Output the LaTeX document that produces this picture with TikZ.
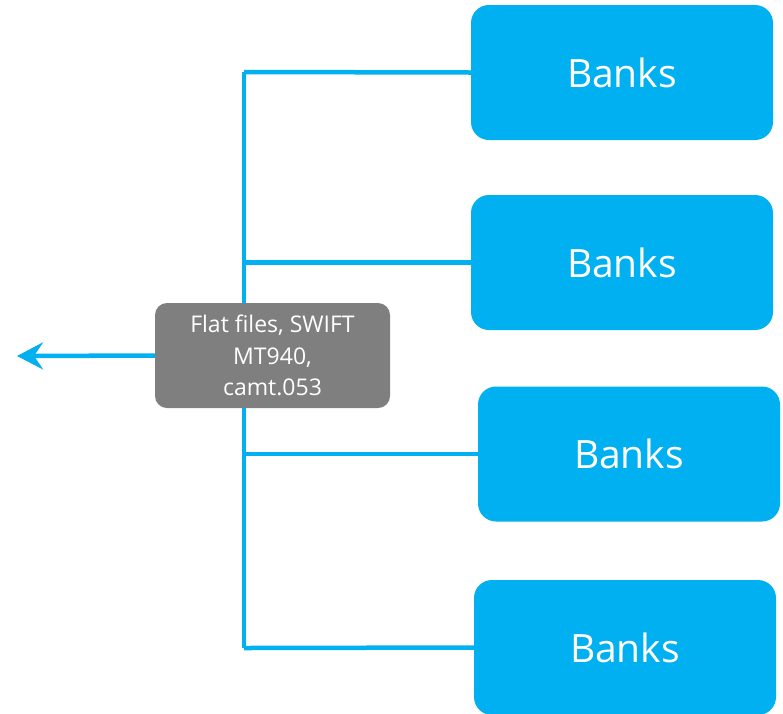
\documentclass[tikz,border=0pt]{standalone}
\usepackage{fontspec}
\setmainfont{Open Sans}
\usetikzlibrary{arrows.meta}
\definecolor{bankblue}{HTML}{00B0F0}
\definecolor{fmtgray}{HTML}{7F7F7F}
\begin{document}
\begin{tikzpicture}[x=1pt,y=-1pt,
  bankbox/.style={fill=bankblue, draw=none, rounded corners=18pt, minimum width=302pt, minimum height=135pt, inner sep=0pt, text=white, font=\fontsize{39}{48}\selectfont},
  fmtbox/.style={fill=fmtgray, draw=none, rounded corners=12pt, minimum width=235pt, minimum height=105pt, inner sep=0pt, text=white, align=center, font=\fontsize{23}{31.5}\selectfont},
  link/.style={draw=bankblue, line width=4.5pt},
]
\useasboundingbox (0,0) rectangle (783,713);
\clip (0,0) rectangle (783,713);
\node[bankbox] (b1) at (622,72.5) {Banks};
\node[bankbox] (b2) at (622,262.5) {Banks};
\node[bankbox] (b3) at (629,454) {Banks};
\node[bankbox] (b4) at (625,647.5) {Banks};
\coordinate (j1) at (244,72);
\coordinate (j4) at (244,648);
\draw[link] (j1) -- (j4);
\draw[link] (j1) -- (b1.west);
\draw[link] (244,262.5) -- (b2.west);
\draw[link] (244,454) -- (b3.west);
\draw[link] (j4) -- (b4.west);
\node[fmtbox] (f) at (272.5,355.5) {Flat files, SWIFT\\MT940,\\camt.053};
\coordinate (out) at (17,356);
\draw[link, -{Stealth[length=26pt, width=27pt, inset=9pt]}] (f.west) -- (out);
\end{tikzpicture}
\end{document}
